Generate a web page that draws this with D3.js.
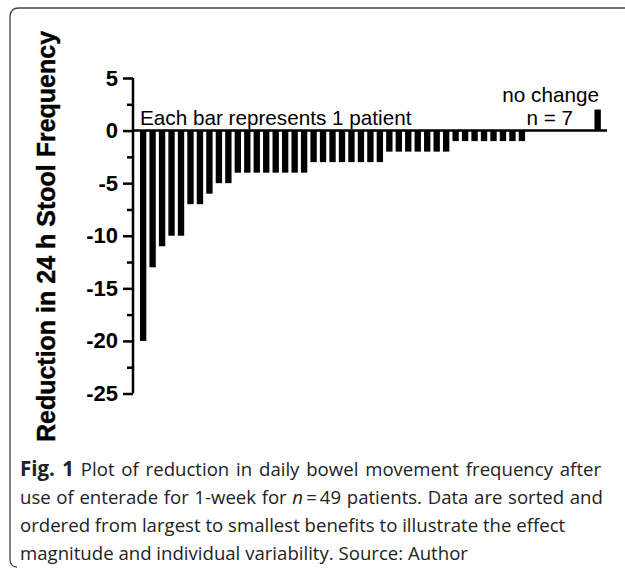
<!DOCTYPE html>
<html>
<head>
<meta charset="utf-8">
<script src="https://cdn.jsdelivr.net/npm/d3@7"></script>
<style>
  html, body { margin: 0; padding: 0; background: #fff; }
  svg { display: block; }
</style>
</head>
<body>
<svg id="chart" width="625" height="569"></svg>
<script>
// ---- data ----
const patients = d3.range(1, 50).map(String);
const reduction = [-20, -13, -11, -10, -10, -7, -7, -6, -5, -5,
  -4, -4, -4, -4, -4, -4, -4, -4,
  -3, -3, -3, -3, -3, -3, -3, -3,
  -2, -2, -2, -2, -2, -2, -2,
  -1, -1, -1, -1, -1, -1, -1, -1,
  0, 0, 0, 0, 0, 0, 0,
  2];
const majorTicks = [5, 0, -5, -10, -15, -20, -25];
const minorTicks = [2.5, -2.5, -7.5, -12.5, -17.5, -22.5];
const yTitle = "Reduction in 24 h Stool Frequency";
const note = "Each bar represents 1 patient";
const noChange = ["no change", "n = 7"];

const svg = d3.select("#chart");

// frame
svg.append("path")
  .attr("d", "M17,567 Q10,567 10,559 L10,17 Q10,8 19,8 L626,8")
  .attr("fill", "none").attr("stroke", "#444").attr("stroke-width", 1.3);

const axisX = 133;
const y = d3.scaleLinear().domain([-25, 5]).range([393.5, 78]);
const x = d3.scaleBand().domain(patients).range([138.4, 602.4])
  .paddingInner(0.33).paddingOuter(0.165);

const g = svg.append("g");

// bars
g.selectAll("rect.bar").data(reduction).join("rect")
  .attr("class", "bar")
  .attr("x", (d, i) => x(patients[i]))
  .attr("width", x.bandwidth())
  .attr("y", d => y(Math.max(0, d)))
  .attr("height", d => Math.abs(y(d) - y(0)))
  .attr("fill", "#000");

// y axis
const yAxis = d3.axisLeft(y).tickValues(majorTicks).tickSize(10).tickPadding(5)
  .tickFormat(d3.format("d"));
const ya = g.append("g").attr("transform", `translate(${axisX},0)`).call(yAxis);
ya.select(".domain").attr("stroke-width", 2.5).attr("d", `M0,${y(5)}V${y(-25)}`);
ya.selectAll(".tick line").attr("stroke-width", 2.5);
ya.selectAll(".tick text")
  .attr("font-family", "'Liberation Sans', Arial, sans-serif")
  .attr("font-weight", "bold").attr("font-size", 22).attr("fill", "#000")
  .text(d => d < 0 ? "-" + Math.abs(d) : String(d));

const yMinor = d3.axisLeft(y).tickValues(minorTicks).tickSize(6).tickFormat("");
const ym = g.append("g").attr("transform", `translate(${axisX},0)`).call(yMinor);
ym.select(".domain").remove();
ym.selectAll(".tick line").attr("stroke-width", 2.5);

// x axis (zero line)
g.append("line")
  .attr("x1", axisX - 1).attr("x2", 607)
  .attr("y1", y(0)).attr("y2", y(0))
  .attr("stroke", "#000").attr("stroke-width", 2.5);

// y title
svg.append("text")
  .attr("transform", `translate(55,${(30 + 443) / 2}) rotate(-90)`)
  .attr("text-anchor", "middle")
  .attr("font-family", "'Liberation Sans', Arial, sans-serif")
  .attr("font-weight", "bold").attr("font-size", 25)
  .attr("stroke", "#000").attr("stroke-width", 0.4)
  .text(yTitle);

// annotations
const ann = svg.append("g").attr("font-family", "'Liberation Sans', Arial, sans-serif")
  .attr("font-size", 20.7);
ann.append("text").attr("x", 140).attr("y", 125).text(note);
ann.append("text").attr("x", 599).attr("y", 102).attr("text-anchor", "end").text(noChange[0]);
ann.append("text").attr("x", 573).attr("y", 125).attr("text-anchor", "end").text(noChange[1]);

// caption
const cap = svg.append("g").attr("font-family", "'Open Sans', sans-serif")
  .attr("font-size", 18.6).attr("fill", "#222");
const lines = [
  [["Fig. 1", "bold"], [" Plot of reduction in daily bowel movement frequency after", ""]],
  [["use of enterade for 1-week for ", ""], ["n", "italic"], ["\u2009=\u200949 patients. Data are sorted and", ""]],
  [["ordered from largest to smallest benefits to illustrate the effect", ""]],
  [["magnitude and individual variability. Source: Author", ""]]
];
const wordSpacing = [2, 0.8, 0, 0];
lines.forEach((ln, i) => {
  const t = cap.append("text").attr("x", 20).attr("y", 476 + i * 28)
    .attr("word-spacing", wordSpacing[i]);
  ln.forEach(([s, st]) => {
    const ts = t.append("tspan").text(s);
    if (st === "bold") ts.attr("font-weight", "bold").attr("font-size", 20.5);
    if (st === "italic") ts.attr("font-style", "italic");
  });
});
</script>
</body>
</html>
